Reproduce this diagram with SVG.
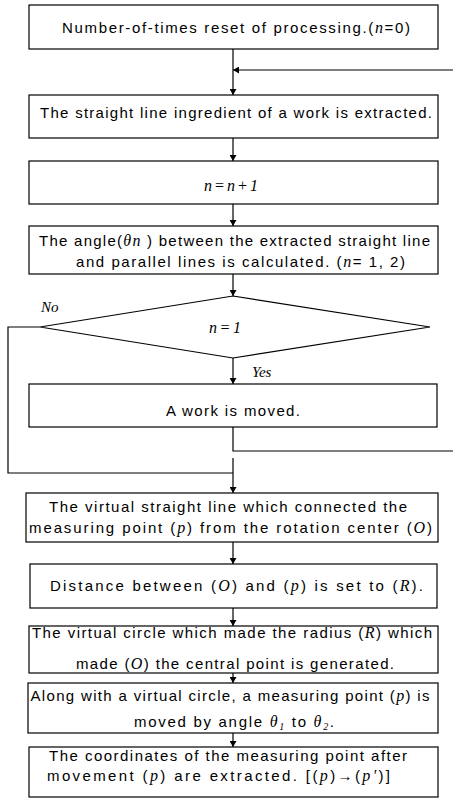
<svg xmlns="http://www.w3.org/2000/svg" width="453" height="809" viewBox="0 0 453 809">
<style>
.box{fill:#fff;stroke:#000;stroke-width:1.2}
.ln{fill:none;stroke:#000;stroke-width:1.2}
text{font-family:"Liberation Sans",Arial,sans-serif;font-size:15px;fill:#000;text-anchor:middle}
.v{font-family:"Liberation Serif","Times New Roman",serif;font-style:italic;font-size:16px}
.lab{font-family:"Liberation Serif","Times New Roman",serif;font-style:italic;font-size:15px;text-anchor:start}
</style>
<defs>
<marker id="ah" viewBox="0 0 6 7" refX="6" refY="3.5" markerWidth="6" markerHeight="7" orient="auto" markerUnits="userSpaceOnUse">
<path d="M0,0 L6,3.5 L0,7 Z" fill="#000"/>
</marker>
</defs>
<g id="connectors">
<line class="ln" x1="233" y1="49" x2="233" y2="95" marker-end="url(#ah)"/>
<line class="ln" x1="453" y1="70" x2="233" y2="70" marker-end="url(#ah)"/>
<line class="ln" x1="233" y1="138" x2="233" y2="161" marker-end="url(#ah)"/>
<line class="ln" x1="233" y1="204" x2="233" y2="226" marker-end="url(#ah)"/>
<line class="ln" x1="233" y1="274" x2="233" y2="296" marker-end="url(#ah)"/>
<line class="ln" x1="233" y1="358" x2="233" y2="384" marker-end="url(#ah)"/>
<polyline class="ln" points="233,427 233,451 453,451"/>
<polyline class="ln" points="40,327 8,327 8,473 233,473"/>
<line class="ln" x1="233" y1="458" x2="233" y2="493" marker-end="url(#ah)"/>
<line class="ln" x1="233" y1="542" x2="233" y2="564" marker-end="url(#ah)"/>
<line class="ln" x1="233" y1="608" x2="233" y2="626" marker-end="url(#ah)"/>
<line class="ln" x1="233" y1="673" x2="233" y2="683" marker-end="url(#ah)"/>
<line class="ln" x1="233" y1="733" x2="233" y2="747" marker-end="url(#ah)"/>
<text class="lab" x="41" y="312">No</text>
<text class="lab" x="252" y="377">Yes</text>
</g>
<g id="n1">
<rect class="box" x="29" y="5" width="409" height="44"/>
<text x="236" y="33" textLength="348" lengthAdjust="spacing">Number-of-times reset of processing.(<tspan class="v">n</tspan>=0)</text>
</g>
<g id="n2">
<rect class="box" x="29" y="95" width="409" height="43"/>
<text x="236" y="118" textLength="392" lengthAdjust="spacing">The straight line ingredient of a work is extracted.</text>
</g>
<g id="n3">
<rect class="box" x="29" y="161" width="409" height="43"/>
<text class="v" x="231" y="191" font-size="17" textLength="54" lengthAdjust="spacing">n=n+1</text>
</g>
<g id="n4">
<rect class="box" x="29" y="226" width="409" height="48"/>
<text x="234.5" y="246" textLength="391" lengthAdjust="spacing">The angle(<tspan class="v">θn</tspan> ) between the extracted straight line</text>
<text x="240.5" y="267" textLength="329" lengthAdjust="spacing">and parallel lines is calculated. (<tspan class="v">n</tspan>= 1, 2)</text>
</g>
<g id="n5">
<polygon class="box" points="233,296 430,327 233,358 40,327"/>
<text class="v" x="225" y="333" textLength="32" lengthAdjust="spacing">n=1</text>
</g>
<g id="n6">
<rect class="box" x="29" y="384" width="408" height="43"/>
<text x="233" y="416" textLength="134" lengthAdjust="spacing">A work is moved.</text>
</g>
<g id="n7">
<rect class="box" x="26" y="493" width="412" height="49"/>
<text x="228" y="512" textLength="358" lengthAdjust="spacing">The virtual straight line which connected the</text>
<text x="230.5" y="533" textLength="403" lengthAdjust="spacing">measuring point (<tspan class="v">p</tspan>) from the rotation center (<tspan class="v">O</tspan>)</text>
</g>
<g id="n8">
<rect class="box" x="30" y="564" width="407" height="44"/>
<text x="236.5" y="591" textLength="373" lengthAdjust="spacing">Distance between (<tspan class="v">O</tspan>) and (<tspan class="v">p</tspan>) is set to (<tspan class="v">R</tspan>).</text>
</g>
<g id="n9">
<rect class="box" x="29" y="626" width="409" height="47"/>
<text x="232" y="638" textLength="400" lengthAdjust="spacing">The virtual circle which made the radius (<tspan class="v">R</tspan>) which</text>
<text x="235" y="669" textLength="318" lengthAdjust="spacing">made (<tspan class="v">O</tspan>) the central point is generated.</text>
</g>
<g id="n10">
<rect class="box" x="28" y="683" width="410" height="50"/>
<text x="230" y="701" textLength="399" lengthAdjust="spacing">Along with a virtual circle, a measuring point (<tspan class="v">p</tspan>) is</text>
<text x="234" y="727" textLength="200" lengthAdjust="spacing">moved by angle <tspan class="v">θ<tspan font-size="10" dy="3">1</tspan></tspan><tspan dy="-3">  to </tspan><tspan class="v">θ<tspan font-size="10" dy="3">2</tspan></tspan><tspan dy="-3">.</tspan></text>
</g>
<g id="n11">
<rect class="box" x="29" y="747" width="409" height="50"/>
<text x="228" y="761" textLength="358" lengthAdjust="spacing">The coordinates of the measuring point after</text>
<text x="218.5" y="781" textLength="343" lengthAdjust="spacing">movement (<tspan class="v">p</tspan>) are extracted. [(<tspan class="v">p</tspan>)→(<tspan class="v">p'</tspan>)]</text>
</g>
</svg>
